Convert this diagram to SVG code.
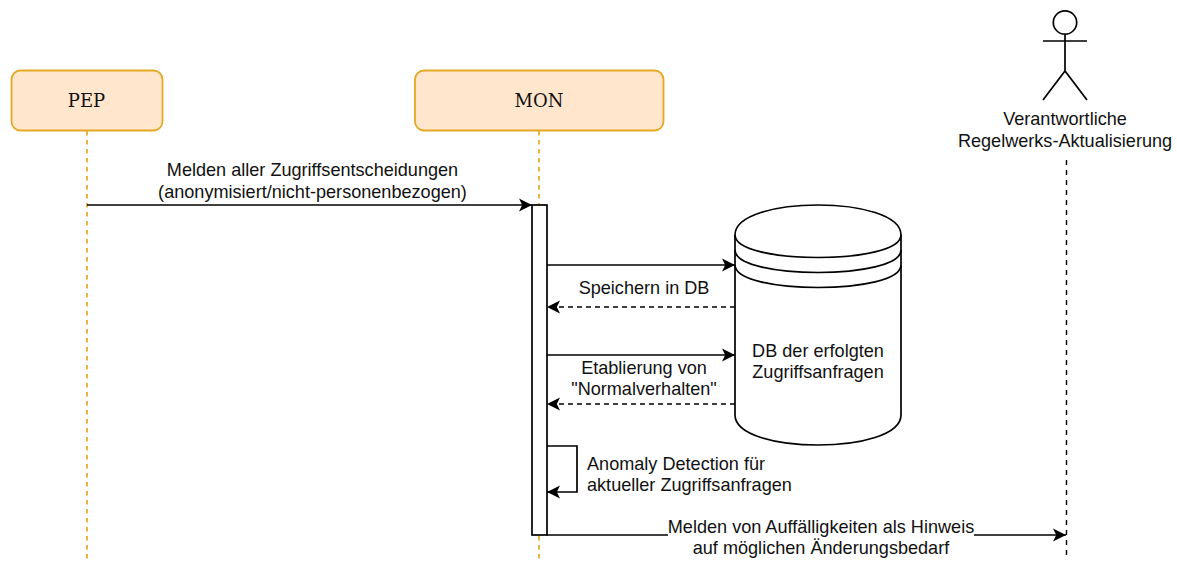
<svg xmlns="http://www.w3.org/2000/svg" width="1177" height="562" viewBox="0 0 1177 562">
<style>
text{font-family:"Liberation Sans",Arial,sans-serif;font-size:18.100px;fill:#111;text-anchor:middle}
.h{font-family:"DejaVu Serif",serif;font-size:18px}
.l{text-anchor:start}
.box{fill:#ffe6cc;stroke:#e5a823;stroke-width:1.800}
.life{fill:none;stroke:#e5a823;stroke-width:1.700;stroke-dasharray:4.500 4.500}
.c{fill:none;stroke:#000;stroke-width:1.700}
.d{stroke-dasharray:5 4}
.s{fill:none;stroke:#000;stroke-width:1.700}
</style>
<defs>
<marker id="a" markerUnits="userSpaceOnUse" markerWidth="16" markerHeight="16" refX="14" refY="8" orient="auto"><path d="M1,1.500 L14,8 L1,14.500 L4.200,8 Z" fill="#000"/></marker>
</defs>
<g id="pep"><rect class="box" x="11.500" y="70.500" width="151" height="60" rx="9"/><text class="h" x="86.500" y="107">PEP</text><line class="life" x1="87" y1="131" x2="87" y2="560"/></g>
<g id="mon"><rect class="box" x="415" y="70.500" width="248.500" height="60" rx="9"/><text class="h" x="539" y="107">MON</text><line class="life" x1="539" y1="131" x2="539" y2="560"/></g>
<g id="activation"><rect x="532" y="205" width="15" height="330" fill="#fff" stroke="#000" stroke-width="1.700"/></g>
<g id="db"><path class="s" fill="#fff" d="M735,235 C735,195 901,195 901,235 L901,415 C901,455 735,455 735,415 Z"/><path class="s" d="M735,235 C735,265 901,265 901,235 M735,250 C735,280 901,280 901,250 M735,265 C735,295 901,295 901,265"/><text x="818" y="357">DB der erfolgten</text><text x="818" y="378">Zugriffsanfragen</text></g>
<g id="actor"><circle class="s" cx="1065" cy="22.500" r="11.700"/><path class="s" d="M1065,34 V71 M1043,41 H1087 M1043,100 L1065,71 L1087,100"/><text x="1065" y="125">Verantwortliche</text><text x="1065" y="147">Regelwerks-Aktualisierung</text><line x1="1066.500" y1="160" x2="1066.500" y2="560" stroke="#000" stroke-width="1.400" stroke-dasharray="5 5"/></g>
<g id="connectors">
<path class="c" d="M87,205 H532" marker-end="url(#a)"/>
<path class="c" d="M547,265 H735" marker-end="url(#a)"/>
<path class="c d" d="M735,307 H547" marker-end="url(#a)"/>
<path class="c" d="M547,355 H735" marker-end="url(#a)"/>
<path class="c d" d="M735,404 H547" marker-end="url(#a)"/>
<path class="c" d="M547,446 H577 V492 H547" marker-end="url(#a)"/>
<path class="c" d="M547,535 H1066" marker-end="url(#a)"/>
</g>
<g id="labels">
<text x="312.500" y="176">Melden aller Zugriffsentscheidungen</text><text x="312.500" y="198">(anonymisiert/nicht-personenbezogen)</text>
<text x="644" y="294">Speichern in DB</text>
<text x="644" y="374">Etablierung von</text><text x="644" y="395">"Normalverhalten"</text>
<text class="l" x="587" y="470">Anomaly Detection für</text><text class="l" x="587" y="491">aktueller Zugriffsanfragen</text>
<rect x="668" y="520" width="306" height="20" fill="#fff"/>
<text x="821" y="533">Melden von Auffälligkeiten als Hinweis</text><text x="821" y="554">auf möglichen Änderungsbedarf</text>
</g>
</svg>
